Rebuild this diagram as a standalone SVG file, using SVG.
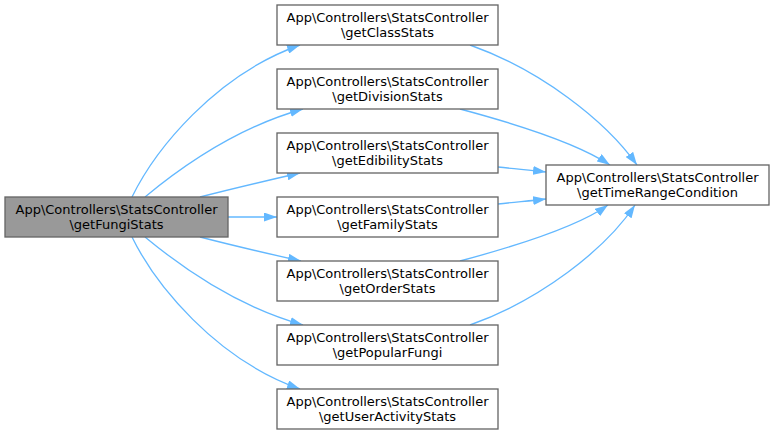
<svg xmlns="http://www.w3.org/2000/svg" width="775" height="435" viewBox="0 0 775 435">
<style>
.node rect{fill:#fff;stroke:#666;stroke-width:1.33}
.node.root rect{fill:#999}
.node text{font-family:"DejaVu Sans",sans-serif;font-size:13px;fill:#000;text-anchor:middle}
.edge{fill:none;stroke:#63b8ff;stroke-width:1.33;marker-end:url(#ah)}
</style>
<defs>
<marker id="ah" viewBox="0 0 13 9" refX="13" refY="4.5" markerWidth="13" markerHeight="9" markerUnits="userSpaceOnUse" orient="auto">
<polygon points="0,0 13,4.5 0,9" fill="#63b8ff"/>
</marker>
</defs>
<rect width="775" height="435" fill="#fff"/>
<g id="connectors">
<path class="edge" d="M132,197 C155,150 215,75 300,45"/>
<path class="edge" d="M145,197 C180,168 235,128 303,109"/>
<path class="edge" d="M200,197 C235,188 265,181 300,173"/>
<path class="edge" d="M228,217 L277,217"/>
<path class="edge" d="M200,237 C235,246 265,253 301,261"/>
<path class="edge" d="M145,237 C180,266 235,306 303,325"/>
<path class="edge" d="M132,237 C155,284 215,359 300,389"/>
<path class="edge" d="M470,45 C540,70 605,120 637,165"/>
<path class="edge" d="M460,109 C520,125 580,145 610,165"/>
<path class="edge" d="M498,167 C515,169 530,170 546,172"/>
<path class="edge" d="M498,204 C515,202 530,201 546,199"/>
<path class="edge" d="M460,261 C520,245 580,225 608,205"/>
<path class="edge" d="M470,325 C540,300 605,250 635,205"/>
</g>
<g id="node-getFungiStats" class="node root">
<rect x="5" y="197" width="223" height="40"/>
<text x="116.5" y="214">App\Controllers\StatsController</text>
<text x="116.5" y="229">\getFungiStats</text>
</g>
<g id="node-getClassStats" class="node">
<rect x="277" y="5" width="221" height="40"/>
<text x="387.5" y="22">App\Controllers\StatsController</text>
<text x="387.5" y="37">\getClassStats</text>
</g>
<g id="node-getDivisionStats" class="node">
<rect x="277" y="69" width="221" height="40"/>
<text x="387.5" y="86">App\Controllers\StatsController</text>
<text x="387.5" y="101">\getDivisionStats</text>
</g>
<g id="node-getEdibilityStats" class="node">
<rect x="277" y="133" width="221" height="40"/>
<text x="387.5" y="150">App\Controllers\StatsController</text>
<text x="387.5" y="165">\getEdibilityStats</text>
</g>
<g id="node-getFamilyStats" class="node">
<rect x="277" y="197" width="221" height="40"/>
<text x="387.5" y="214">App\Controllers\StatsController</text>
<text x="387.5" y="229">\getFamilyStats</text>
</g>
<g id="node-getOrderStats" class="node">
<rect x="277" y="261" width="221" height="40"/>
<text x="387.5" y="278">App\Controllers\StatsController</text>
<text x="387.5" y="293">\getOrderStats</text>
</g>
<g id="node-getPopularFungi" class="node">
<rect x="277" y="325" width="221" height="40"/>
<text x="387.5" y="342">App\Controllers\StatsController</text>
<text x="387.5" y="357">\getPopularFungi</text>
</g>
<g id="node-getUserActivityStats" class="node">
<rect x="277" y="389" width="221" height="40"/>
<text x="387.5" y="406">App\Controllers\StatsController</text>
<text x="387.5" y="421">\getUserActivityStats</text>
</g>
<g id="node-getTimeRangeCondition" class="node">
<rect x="546" y="165" width="223" height="40"/>
<text x="657.5" y="182">App\Controllers\StatsController</text>
<text x="657.5" y="197">\getTimeRangeCondition</text>
</g>
</svg>
